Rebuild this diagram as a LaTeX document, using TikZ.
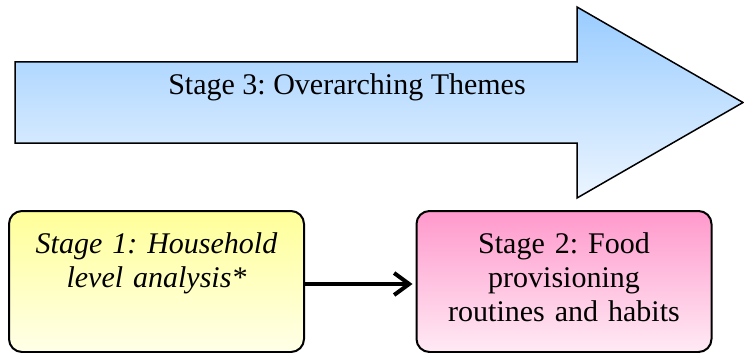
\documentclass[tikz,border=0pt]{standalone}
\usepackage{fontspec}
\setmainfont{Liberation Serif}
\usepackage{tikz}
\usetikzlibrary{positioning}
\usetikzlibrary{arrows.meta}

\definecolor{arrowtop}{RGB}{153,204,255}
\definecolor{arrowbottom}{RGB}{236,245,255}
\definecolor{yellowtop}{RGB}{255,255,153}
\definecolor{yellowbottom}{RGB}{255,255,232}
\definecolor{pinktop}{RGB}{255,153,204}
\definecolor{pinkbottom}{RGB}{255,234,244}
\frenchspacing

\begin{document}
\begin{tikzpicture}[
          x=1pt, y=-1pt, % 按像素坐标作图, y 轴向下
          every node/.style={font=\fontsize{30}{34}\selectfont}, % 统一字号
          stagebox/.style={draw, line width=2pt, rounded corners=13pt,
              inner xsep=10pt, inner ysep=21pt, text width=275pt, align=center,
              text height=21pt, text depth=78pt} % 文字靠上的阶段框
      ]
        \useasboundingbox (0,0) rectangle (744,353);
        % 第三阶段: 大箭头和标签
        \shadedraw[top color=arrowtop, bottom color=arrowbottom, line width=1.5pt]
            (15,62) -- (577,62) -- (577,7) -- (743,102.5)
            -- (577,198) -- (577,143) -- (15,143) -- cycle;
        \node[anchor=base] (stagethree) at (347,94) {Stage 3: Overarching Themes};
        % 第一、二阶段的框
        \node[stagebox, top color=yellowtop, bottom color=yellowbottom]
            (stageone) at (156.5,281.5) {\itshape Stage 1: Household\\ level analysis*};
        \node[stagebox, top color=pinktop, bottom color=pinkbottom]
            (stagetwo) at (564,281.5) {Stage 2: Food\\ provisioning\\ routines and habits};
        % 中间的连接箭头
        \draw[line width=4pt, -{Straight Barb[length=15pt, width=22pt]}, shorten >=3pt]
            ([yshift=-2.5pt]stageone.east) -- ([yshift=-2.5pt]stagetwo.west);
      \end{tikzpicture}
\end{document}
